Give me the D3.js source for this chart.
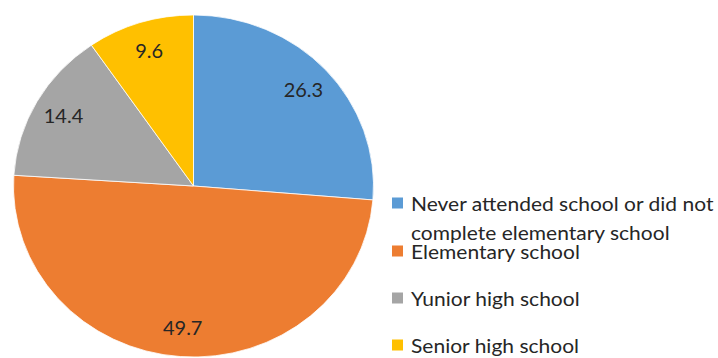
<!DOCTYPE html>
<html>
<head>
<meta charset="utf-8">
<script src="https://cdn.jsdelivr.net/npm/d3@7"></script>
<style>
  body { margin: 0; background: #fff; }
  svg { display: block; }
  text { font-family: Lato, "Open Sans", sans-serif; fill: #262626; }
</style>
</head>
<body>
<div id="chart"></div>
<script>
// data
var categories = ["Never attended school or did not complete elementary school",
                  "Elementary school", "Yunior high school", "Senior high school"];
var values = [26.3, 49.7, 14.4, 9.6];
var colors = ["#5B9BD5", "#ED7D31", "#A5A5A5", "#FFC000"];
// legend text broken into lines like the original
var legendLines = [["Never attended school or did not", "complete elementary school"],
                   ["Elementary school"], ["Yunior high school"], ["Senior high school"]];

var width = 718, height = 358;
var cx = 193.5, cy = 186, r = 180, squash = 0.95, stretch = 1.05;

var svg = d3.select("#chart")
    .append("svg")
    .attr("width", width)
    .attr("height", height);

var pie = d3.pie().sort(null).value(function (d) { return d; });
var arcs = pie(values);

var arc = d3.arc().innerRadius(0).outerRadius(r);
var labelArc = d3.arc().innerRadius(r * 0.83).outerRadius(r * 0.83);

// slices (image is slightly stretched sideways, so squash y a bit)
svg.append("g")
    .attr("transform", "translate(" + cx + "," + cy + ") scale(1," + squash + ")")
    .selectAll("path")
    .data(arcs)
    .enter()
    .append("path")
    .attr("d", arc)
    .attr("fill", function (d, i) { return colors[i]; })
    .attr("stroke", "#fff")
    .attr("stroke-width", 0.8);

// data labels
svg.append("g")
    .selectAll("text")
    .data(arcs)
    .enter()
    .append("text")
    .attr("transform", function (d) {
        var c = labelArc.centroid(d);
        return "translate(" + (cx + c[0]) + "," + (cy + c[1] * squash) + ") scale(" + stretch + ",1)";
    })
    .attr("text-anchor", "middle")
    .attr("dominant-baseline", "central")
    .style("font-size", "19px")
    .text(function (d) { return d.data.toFixed(1); });

// legend
var rowY = [203, 251, 298, 345];
var legend = svg.append("g");
var items = legend.selectAll("g")
    .data(categories)
    .enter()
    .append("g")
    .attr("transform", function (d, i) { return "translate(392," + rowY[i] + ")"; });

items.append("rect")
    .attr("x", 0)
    .attr("y", -5.5)
    .attr("width", 11)
    .attr("height", 11)
    .attr("fill", function (d, i) { return colors[i]; });

items.each(function (d, i) {
    var t = d3.select(this).append("text")
        .attr("transform", "translate(19,0) scale(" + stretch + ",1)")
        .attr("dominant-baseline", "central")
        .style("font-size", "20px");
    legendLines[i].forEach(function (line, j) {
        t.append("tspan").attr("x", 0).attr("y", j * 29).text(line);
    });
});
</script>
</body>
</html>
